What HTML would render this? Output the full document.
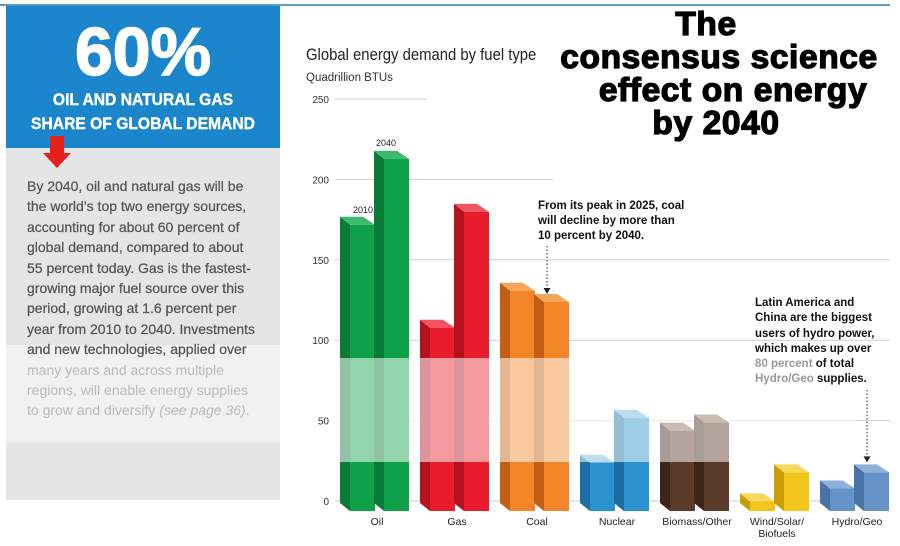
<!DOCTYPE html>
<html><head><meta charset="utf-8">
<style>
body{margin:0;width:900px;height:546px;background:#fff;overflow:hidden;position:relative;font-family:"Liberation Sans",Arial,sans-serif}
.abs{position:absolute}
.body-text{font-size:14px;line-height:20.4px;color:#555;white-space:nowrap;-webkit-text-stroke:0.25px #555}
.title{font-weight:bold;font-size:33.5px;color:#000;white-space:nowrap;transform:translateX(-50%);letter-spacing:0.6px;-webkit-text-stroke:1.3px #000}
</style></head>
<body>
<div class="abs" style="left:0;top:4px;width:890px;height:2px;background:#5d9cc4"></div>
<div class="abs" style="left:6px;top:6px;width:274px;height:142px;background:#1b86cc"></div>
<div class="abs" style="left:6px;top:20px;width:274px;text-align:center;color:#fff;font-weight:bold;font-size:68px;line-height:64px;-webkit-text-stroke:1.5px #fff">60%</div>
<div class="abs" style="left:6px;top:88px;width:274px;text-align:center;color:#fff;font-weight:bold;font-size:17px;line-height:24px;transform:scaleX(0.92);-webkit-text-stroke:0.4px #fff">OIL AND NATURAL GAS<br>SHARE OF GLOBAL DEMAND</div>
<div class="abs" style="left:6px;top:148px;width:274px;height:352px;background:#e4e5e7"></div>
<div class="abs" style="left:6px;top:345px;width:274px;height:97px;background:#f1f1f2"></div>
<div class="abs" style="left:50px;top:136px;width:14px;height:17px;background:#e8201c"></div>
<div class="abs" style="left:43px;top:153px;width:0;height:0;border-left:14px solid transparent;border-right:14px solid transparent;border-top:15px solid #e8201c"></div>
<div class="abs body-text" style="left:27px;top:176px;width:245px">By 2040, oil and natural gas will be<br>the world’s top two energy sources,<br>accounting for about 60 percent of<br>global demand, compared to about<br>55 percent today. Gas is the fastest-<br>growing major fuel source over this<br>period, growing at 1.6 percent per<br>year from 2010 to 2040. Investments<br>and new technologies, applied over<br><span style="color:#bbb;-webkit-text-stroke:0">many years and across multiple<br>regions, will enable energy supplies<br>to grow and diversify <i>(see page 36)</i>.</span></div>

<div class="abs" style="left:306px;top:46px;font-size:16.5px;color:#222;transform:scaleX(0.9);transform-origin:left;white-space:nowrap">Global energy demand by fuel type</div>
<div class="abs" style="left:306px;top:72px;font-size:11.5px;color:#333">Quadrillion BTUs</div>

<div class="abs title" style="left:706px;top:6px">The</div>
<div class="abs title" style="left:719px;top:39px">consensus science</div>
<div class="abs title" style="left:733px;top:72px">effect on energy</div>
<div class="abs title" style="left:716px;top:105px">by 2040</div>

<svg class="abs" id="chart" style="left:0;top:0" width="900" height="546"></svg>

<div class="abs" style="left:538px;top:199px;font-size:11.5px;line-height:15px;font-weight:bold;color:#111">From its peak in 2025, coal<br>will decline by more than<br>10 percent by 2040.</div>
<div class="abs" style="left:755px;top:296px;font-size:11.5px;line-height:15.3px;font-weight:bold;color:#111">Latin America and<br>China are the biggest<br>users of hydro power,<br>which makes up over<br><span style="color:#999">80 percent</span> of total<br><span style="color:#999">Hydro/Geo</span> supplies.</div>

<script>
const categories=["Oil","Gas","Coal","Nuclear","Biomass/Other","Wind/Solar/\nBiofuels","Hydro/Geo"];
const values2010=[178,114,137,30,50,6,14];
const values2040=[219,186,130,58,55,24,24];
const yTicks=[0,50,100,150,200,250];
const colors=[["#0fa04a","#0a7a37","#3dba6e"],["#e81c2c","#b4121f","#ef5560"],["#f2852a","#c25f12","#f6a45c"],["#2a92cf","#1a6ea3","#6cb6e2"],["#5a3a28","#3d2618","#8a6a58"],["#f2c618","#c99d08","#f6d85c"],["#6693c8","#4a74a8","#8fb0da"]];
const svg=document.getElementById('chart');
const NS="http://www.w3.org/2000/svg";
const y0=501, ppu=1.608, base=511;
function yScale(v){return y0-v*ppu;}
function barTop(v){return base-v*ppu;}
function groupX(i){return 340+i*80;}
function mk(t,a){const e=document.createElementNS(NS,t);for(const k in a)e.setAttribute(k,a[k]);svg.appendChild(e);return e;}
yTicks.forEach(t=>{
  const y=yScale(t);
  const xe = t===250?427:(t===200?553:890);
  const l=mk('line',{x1:335,x2:xe,y1:y,y2:y,stroke:'#cfcfcf','stroke-width':1});
  
  
  const tx=mk('text',{x:329,y:y+4,'text-anchor':'end','font-size':10,fill:'#333','font-family':'Liberation Sans'});
  tx.textContent=t;
  
  
});
function bar(x,v,c,name){
  const t=barTop(v), d=8, sw=10, fw=25;
  const side=mk('polygon',{points:`${x},${t-d} ${x+sw},${t} ${x+sw},${base} ${x},${base-d}`,fill:c[1]});
  
  
  const top=mk('polygon',{points:`${x},${t-d} ${x+fw-2},${t-d} ${x+fw+sw},${t} ${x+sw},${t}`,fill:c[2]});
  
  
  const f=mk('rect',{x:x+sw,y:t,width:fw,height:base-t,fill:c[0]});
  
  
}
categories.forEach((c,i)=>{
  const gx=groupX(i);
  bar(gx,values2010[i],colors[i],'bar-'+i+'-2010');
  bar(gx+34,values2040[i],colors[i],'bar-'+i+'-2040');
  const lines=c.split('\n');
  lines.forEach((ln,j)=>{
    const tx=mk('text',{x:gx+37,y:525+j*12,'text-anchor':'middle','font-size':10.5,fill:'#222','font-family':'Liberation Sans'});
    tx.textContent=ln;
    
    
  });
});
const band=mk('rect',{x:335,y:358,width:520,height:104,fill:'#fff','fill-opacity':0.55});


const l1=mk('text',{x:363,y:barTop(values2010[0])-12,'text-anchor':'middle','font-size':9,fill:'#222','font-family':'Liberation Sans'});l1.textContent='2010';


const l2=mk('text',{x:386,y:barTop(values2040[0])-13,'text-anchor':'middle','font-size':9,fill:'#222','font-family':'Liberation Sans'});l2.textContent='2040';


function arrow(x,y1,y2,name){
  const l=mk('line',{x1:x,x2:x,y1:y1,y2:y2-5,stroke:'#222','stroke-width':1,'stroke-dasharray':'1.5,2'});
  
  
  const h=mk('polygon',{points:`${x-3.5},${y2-6} ${x+3.5},${y2-6} ${x},${y2}`,fill:'#222'});
  
  
}
arrow(547,246,barTop(values2040[2])-8,'coal-arrow');
arrow(867,390,barTop(values2040[6])-10,'hydro-arrow');
</script>
</body></html>
